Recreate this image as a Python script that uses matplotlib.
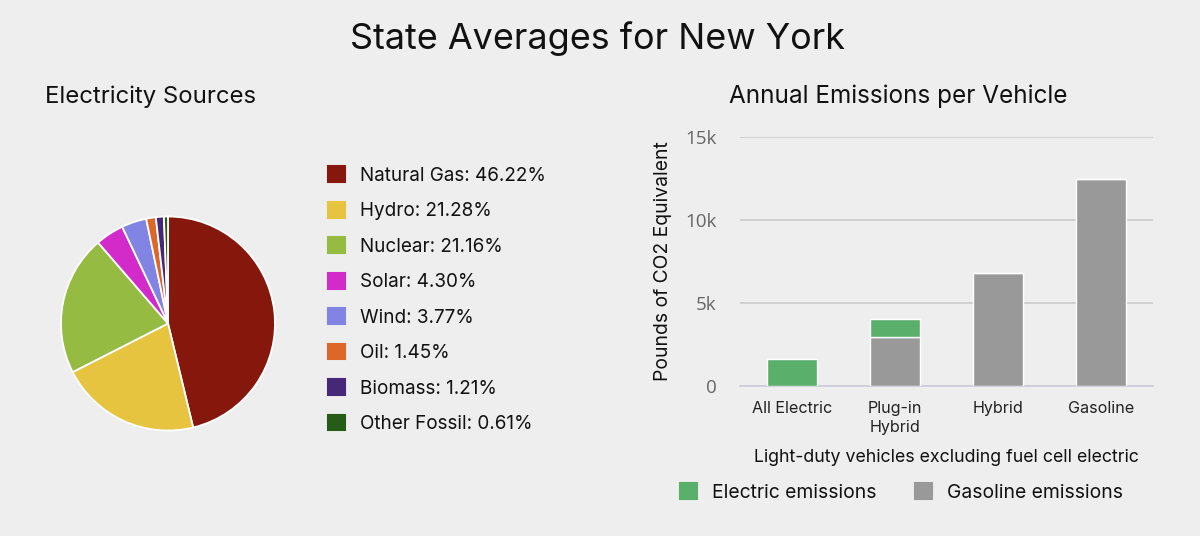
import matplotlib
matplotlib.use('Agg')
import matplotlib.pyplot as plt
from matplotlib.patches import Patch

plt.rcParams['font.family'] = ['Inter', 'DejaVu Sans']

BG = '#eeeeee'
TEXT = '#111111'

# electricity mix
sources = ['Natural Gas', 'Hydro', 'Nuclear', 'Solar', 'Wind', 'Oil', 'Biomass', 'Other Fossil']
shares = [46.22, 21.28, 21.16, 4.30, 3.77, 1.45, 1.21, 0.61]
source_colors = ['#86170d', '#e6c440', '#95bb42', '#d22bc9', '#8184e2', '#dd6728', '#472878', '#255c17']

# emissions per vehicle
vehicles = ['All Electric', 'Plug-in\nHybrid', 'Hybrid', 'Gasoline']
gasoline = [0, 2950, 6800, 12470]
electric = [1630, 1070, 0, 0]
yticks = [0, 5000, 10000, 15000]
yticklabels = ['0', '5k', '10k', '15k']

W, H = 1200, 536
fig = plt.figure(figsize=(W / 100, H / 100), dpi=100, facecolor=BG)


def px_axes(left, top, right, bottom):
    return fig.add_axes([left / W, 1 - bottom / H, (right - left) / W, (bottom - top) / H])


fig.text(598 / W, 1 - 38.5 / H, 'State Averages for New York', ha='center', va='center',
         fontsize=25.9, color=TEXT)
fig.text(45 / W, 1 - 96.5 / H, 'Electricity Sources', ha='left', va='center', fontsize=17.2, color=TEXT)
fig.text(898.5 / W, 1 - 96.5 / H, 'Annual Emissions per Vehicle', ha='center', va='center',
         fontsize=17.5, color=TEXT)

# pie
ax_pie = px_axes(61, 216.5, 275, 430.5)
ax_pie.set_facecolor('none')
wedges, _ = ax_pie.pie(shares, colors=source_colors, startangle=90, counterclock=False, radius=1,
                       wedgeprops={'edgecolor': 'white', 'linewidth': 1.3})
ax_pie.set_xlim(-1, 1)
ax_pie.set_ylim(-1, 1)

pie_handles = [Patch(facecolor=c, edgecolor=c, linewidth=1.5, joinstyle='round') for c in source_colors]
pie_labels = [f'{s}: {v:.2f}%' for s, v in zip(sources, shares)]
fig.legend(pie_handles, pie_labels, loc='upper left', bbox_to_anchor=(328 / W, 1 - 166.5 / H),
           frameon=False, fontsize=13.6, handlelength=0.9, handleheight=0.9, handletextpad=0.8,
           labelspacing=0.905, borderpad=0, borderaxespad=0, labelcolor=TEXT)

# bars
ax = px_axes(740, 137, 1153, 386)
ax.set_facecolor('none')
x = range(len(vehicles))
ax.bar(x, gasoline, width=0.485, color='#999999', edgecolor='white', linewidth=1, zorder=3)
ax.bar(x, electric, width=0.485, bottom=gasoline, color='#5ab06a', edgecolor='white', linewidth=1, zorder=3)
ax.set_xlim(-0.5, 3.5)
ax.set_ylim(0, 15000)
ax.set_yticks(yticks)
ax.set_yticklabels(yticklabels, family='Open Sans', fontsize=13.5, color='#666666')
ax.set_xticks(list(x))
ax.set_xticklabels(vehicles, fontsize=11.6, color='#222222', linespacing=1.35)
ax.tick_params(axis='both', length=0)
ax.tick_params(axis='y', pad=17)
ax.tick_params(axis='x', pad=10.5)
ax.grid(axis='y', color='#c8c8cc', linewidth=1.1, zorder=0)
for side in ['top', 'right', 'left']:
    ax.spines[side].set_visible(False)
ax.spines['bottom'].set_color('#ccccdd')
ax.spines['bottom'].set_linewidth(1.2)
fig.text(663.5 / W, 1 - 261.5 / H, 'Pounds of CO2 Equivalent', rotation=90, ha='center', va='center',
         fontsize=13.9, color=TEXT)
fig.text(946.5 / W, 1 - 457.5 / H, 'Light-duty vehicles excluding fuel cell electric', ha='center', va='center',
         fontsize=12.8, color=TEXT)

bar_handles = [Patch(facecolor='#5ab06a', edgecolor='#5ab06a', linewidth=1.5, joinstyle='round'),
               Patch(facecolor='#999999', edgecolor='#999999', linewidth=1.5, joinstyle='round')]
fig.legend(bar_handles, ['Electric emissions', 'Gasoline emissions'], loc='center left',
           bbox_to_anchor=(680 / W, 1 - 492.5 / H), ncol=2, frameon=False, fontsize=13.9,
           handlelength=0.88, handleheight=0.88, handletextpad=0.8, columnspacing=1.96,
           borderpad=0, borderaxespad=0, labelcolor=TEXT)

fig.savefig('out.png', dpi=100, facecolor=BG)
